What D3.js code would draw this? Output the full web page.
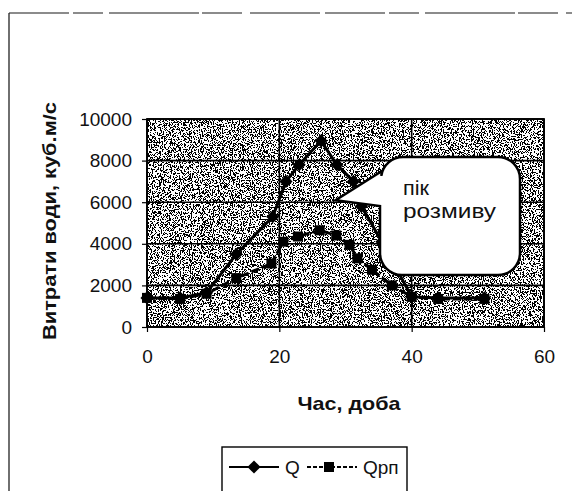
<!DOCTYPE html>
<html>
<head>
<meta charset="utf-8">
<script src="https://cdn.jsdelivr.net/npm/d3@7"></script>
<style>
  body { margin: 0; background: #fff; }
  svg { display: block; font-family: Arial, "Liberation Sans", sans-serif; }
</style>
</head>
<body>
<div id="chart"></div>
<script>
var width = 572;
var height = 491;
var margin = { top: 119, right: 28, bottom: 164, left: 147 };

// series
var qDays = [0, 5, 9, 13.5, 19, 21, 23, 26.3, 28.7, 31.2, 32.4, 35.5, 40, 44, 51];
var qValues = [1400, 1400, 1650, 3500, 5300, 7000, 7800, 8950, 7800, 7000, 5800, 4100, 1450, 1400, 1400];
var qpnDays = [0, 5, 9, 13.5, 18.8, 20.6, 22.8, 26.1, 28.6, 30.6, 31.8, 34, 37, 40, 44, 51];
var qpnValues = [1400, 1350, 1600, 2350, 3050, 4100, 4350, 4650, 4400, 3950, 3300, 2750, 2000, 1450, 1350, 1350];
var xTicks = [0, 20, 40, 60];
var yTicks = [0, 2000, 4000, 6000, 8000, 10000];
var seriesNames = ["Q", "Qрп"];
var noteLines = ["пік", "розмиву"];

var svg = d3.select("#chart").append("svg")
  .attr("width", width)
  .attr("height", height);

var defs = svg.append("defs");

// scanned grey plot area: speckle made from turbulence noise
var speckle = defs.append("filter")
  .attr("id", "speckle")
  .attr("x", 0).attr("y", 0).attr("width", "100%").attr("height", "100%");
speckle.append("feTurbulence")
  .attr("type", "fractalNoise")
  .attr("baseFrequency", "1.1 0.7")
  .attr("numOctaves", 2)
  .attr("seed", 4)
  .attr("result", "noise");
speckle.append("feColorMatrix")
  .attr("in", "noise")
  .attr("type", "matrix")
  .attr("values", "0 0 0 0 0  0 0 0 0 0  0 0 0 0 0  1.6 0 0 0 -0.45");
var ct = speckle.append("feComponentTransfer");
ct.append("feFuncA").attr("type", "discrete").attr("tableValues", "0 0 1 1 1");

// outer frame of the scanned figure
svg.append("line")
  .attr("x1", 9).attr("x2", width).attr("y1", 13).attr("y2", 13)
  .attr("stroke", "#666").attr("stroke-width", 1.5)
  .attr("stroke-dasharray", "60,4,30,6,90,3,40,8,70,5");
svg.append("line")
  .attr("x1", 9).attr("x2", 9).attr("y1", 13).attr("y2", height)
  .attr("stroke", "#222").attr("stroke-width", 1.3);

var iw = width - margin.left - margin.right;
var ih = height - margin.top - margin.bottom;

var x = d3.scaleLinear().domain([0, 60]).range([0, iw]);
var y = d3.scaleLinear().domain([0, 10000]).range([ih, 0]);

var g = svg.append("g").attr("transform", `translate(${margin.left},${margin.top})`);

g.append("rect").attr("width", iw).attr("height", ih).attr("fill", "#fff");
g.append("rect").attr("width", iw).attr("height", ih).attr("fill", "#000")
  .attr("filter", "url(#speckle)");

// grid
g.selectAll("line.hgrid").data(yTicks).join("line")
  .attr("class", "hgrid")
  .attr("x1", 0).attr("x2", iw)
  .attr("y1", d => y(d)).attr("y2", d => y(d))
  .attr("stroke", "#000").attr("stroke-width", 1.6);
g.selectAll("line.vgrid").data(xTicks).join("line")
  .attr("class", "vgrid")
  .attr("y1", 0).attr("y2", ih)
  .attr("x1", d => x(d)).attr("x2", d => x(d))
  .attr("stroke", "#000").attr("stroke-width", 1.6);
g.append("rect").attr("width", iw).attr("height", ih)
  .attr("fill", "none").attr("stroke", "#000").attr("stroke-width", 1.8);

var yAxis = g.append("g")
  .call(d3.axisLeft(y).tickValues(yTicks).tickSize(5).tickPadding(10).tickFormat(d3.format("d")));
var xAxis = g.append("g").attr("transform", `translate(0,${ih})`)
  .call(d3.axisBottom(x).tickValues(xTicks).tickSize(5).tickPadding(18));
[xAxis, yAxis].forEach(a => {
  a.select(".domain").remove();
  a.selectAll("line").attr("stroke", "#000").attr("stroke-width", 1.2);
  a.selectAll("text").attr("font-size", 19).attr("fill", "#111")
    .attr("font-family", "Arial, 'Liberation Sans', sans-serif");
});

// series
var qData = qDays.map((d, i) => [d, qValues[i]]);
var qpnData = qpnDays.map((d, i) => [d, qpnValues[i]]);
var line = d3.line().x(d => x(d[0])).y(d => y(d[1]));

g.append("path").datum(qpnData).attr("d", line)
  .attr("fill", "none").attr("stroke", "#000").attr("stroke-width", 3)
  .attr("stroke-dasharray", "8,3");
g.selectAll("rect.qpn").data(qpnData).join("rect")
  .attr("class", "qpn")
  .attr("x", d => x(d[0]) - 5).attr("y", d => y(d[1]) - 5)
  .attr("width", 10).attr("height", 10).attr("fill", "#000");

g.append("path").datum(qData).attr("d", line)
  .attr("fill", "none").attr("stroke", "#000").attr("stroke-width", 3);
var diamond = d3.symbol().type(d3.symbolDiamond2).size(110);
g.selectAll("path.q").data(qData).join("path")
  .attr("class", "q")
  .attr("transform", d => `translate(${x(d[0])},${y(d[1])})`)
  .attr("d", diamond).attr("fill", "#000");

// callout "пік розмиву"
var cx0 = 380, cy0 = 157, cw = 140, ch = 118, r = 22;
var tip = [x(28.5) + margin.left, y(6100) + margin.top];
var callout = d3.path();
callout.moveTo(cx0 + r, cy0);
callout.lineTo(cx0 + cw - r, cy0);
callout.arcTo(cx0 + cw, cy0, cx0 + cw, cy0 + r, r);
callout.lineTo(cx0 + cw, cy0 + ch - r);
callout.arcTo(cx0 + cw, cy0 + ch, cx0 + cw - r, cy0 + ch, r);
callout.lineTo(cx0 + r, cy0 + ch);
callout.arcTo(cx0, cy0 + ch, cx0, cy0 + ch - r, r);
callout.lineTo(cx0, 206);
callout.lineTo(tip[0], tip[1]);
callout.lineTo(cx0 + 2, cy0 + 14);
callout.arcTo(cx0 + 4, cy0, cx0 + r, cy0, r);
callout.closePath();
svg.append("path").attr("d", callout.toString())
  .attr("fill", "#fff").attr("stroke", "#000").attr("stroke-width", 2.5);
svg.append("g").selectAll("text").data(noteLines).join("text")
  .attr("x", 403).attr("y", (d, i) => 195 + i * 23)
  .attr("font-size", 20).attr("fill", "#111")
  .attr("textLength", (d, i) => i ? 93 : 26).attr("lengthAdjust", "spacingAndGlyphs")
  .text(d => d);

// axis titles
svg.append("text")
  .attr("transform", `translate(56,${margin.top + ih / 2 - 2}) rotate(-90)`)
  .attr("text-anchor", "middle").attr("font-size", 18).attr("font-weight", "bold")
  .attr("fill", "#111")
  .attr("textLength", 238).attr("lengthAdjust", "spacingAndGlyphs")
  .text("Витрати води, куб.м/с");
svg.append("text")
  .attr("x", 349).attr("y", 410)
  .attr("text-anchor", "middle").attr("font-size", 19).attr("font-weight", "bold")
  .attr("fill", "#111")
  .attr("textLength", 103).attr("lengthAdjust", "spacingAndGlyphs")
  .text("Час, доба");

// legend
var legend = svg.append("g").attr("transform", "translate(222,447)");
legend.append("rect").attr("width", 185).attr("height", 48)
  .attr("fill", "#fff").attr("stroke", "#000").attr("stroke-width", 1.4);
var li = legend.selectAll("g.item").data(seriesNames).join("g")
  .attr("class", "item")
  .attr("transform", (d, i) => `translate(${i ? 85 : 7},20)`);
li.append("line").attr("x1", 0).attr("x2", 50)
  .attr("stroke", "#000").attr("stroke-width", 2)
  .attr("stroke-dasharray", (d, i) => i ? "4,2" : null);
li.filter((d, i) => i === 0).append("path")
  .attr("transform", "translate(25,0)").attr("d", diamond).attr("fill", "#000");
li.filter((d, i) => i === 1).append("rect")
  .attr("x", 17).attr("y", -5).attr("width", 10).attr("height", 10).attr("fill", "#000");
li.append("text").attr("x", 56).attr("y", 7)
  .attr("font-size", 19).attr("fill", "#111")
  .text(d => d);
</script>
</body>
</html>
